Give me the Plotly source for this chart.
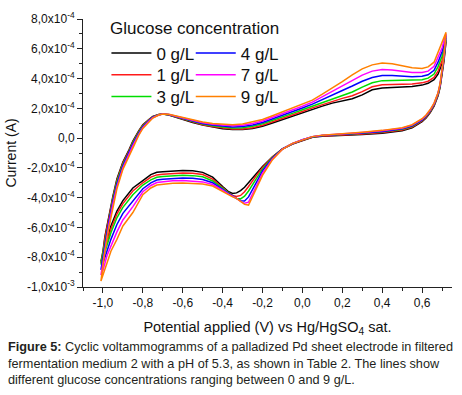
import plotly.graph_objects as go

# Potential grids (V vs Hg/HgSO4)
E_anodic = [-1.01, -1.0, -0.99, -0.97, -0.95, -0.93, -0.90, -0.87, -0.85, -0.82, -0.80, -0.77,
            -0.75, -0.72, -0.70, -0.67, -0.63, -0.60, -0.55, -0.50, -0.45, -0.40, -0.35, -0.30,
            -0.25, -0.20, -0.15, -0.10, -0.05, 0.0, 0.05, 0.10, 0.15, 0.20, 0.25, 0.30,
            0.35, 0.40, 0.45, 0.50, 0.55, 0.60, 0.63, 0.66, 0.68, 0.70, 0.71, 0.72]
E_cathodic = [0.72, 0.71, 0.70, 0.69, 0.68, 0.66, 0.64, 0.62, 0.60, 0.55, 0.50, 0.45,
              0.40, 0.30, 0.20, 0.10, 0.05, 0.0, -0.05, -0.10, -0.15, -0.20, -0.23, -0.25,
              -0.27, -0.29, -0.31, -0.33, -0.35, -0.37, -0.40, -0.45, -0.50, -0.55, -0.60, -0.65,
              -0.70, -0.73, -0.76, -0.80, -0.85, -0.90, -0.93, -0.96, -0.98, -1.0, -1.01]

# Currents in units of 1e-4 A
I0_an = [-8.3, -7.6, -6.6, -5.2, -3.9, -2.75, -1.6, -0.8, -0.2, 0.5, 0.9, 1.25, 1.45, 1.58, 1.62, 1.55,
         1.38, 1.24, 1.05, 0.88, 0.75, 0.63, 0.57, 0.57, 0.65, 0.8, 1.02, 1.25, 1.5, 1.72, 1.95, 2.15,
         2.35, 2.5, 2.65, 2.9, 3.25, 3.36, 3.38, 3.41, 3.46, 3.56, 3.68, 3.92, 4.3, 5.0, 5.7, 6.5]
I1_an = [-8.4, -7.7, -6.7, -5.3, -4.0, -2.85, -1.68, -0.87, -0.26, 0.45, 0.87, 1.23, 1.44, 1.58, 1.62, 1.56,
         1.4, 1.26, 1.07, 0.9, 0.78, 0.67, 0.61, 0.62, 0.7, 0.86, 1.08, 1.31, 1.56, 1.79, 2.03, 2.25,
         2.47, 2.67, 2.85, 3.12, 3.45, 3.58, 3.6, 3.61, 3.64, 3.71, 3.82, 4.07, 4.5, 5.2, 5.85, 6.6]
I3_an = [-8.5, -7.8, -6.85, -5.45, -4.1, -2.95, -1.78, -0.95, -0.32, 0.4, 0.82, 1.2, 1.42, 1.57, 1.62, 1.57,
         1.42, 1.29, 1.1, 0.94, 0.83, 0.73, 0.68, 0.7, 0.79, 0.96, 1.18, 1.41, 1.66, 1.9, 2.14, 2.38,
         2.63, 2.87, 3.1, 3.42, 3.72, 3.86, 3.87, 3.85, 3.86, 3.92, 4.03, 4.3, 4.8, 5.5, 6.1, 6.75]
I4_an = [-8.85, -8.0, -7.05, -5.6, -4.25, -3.1, -1.88, -1.02, -0.4, 0.33, 0.76, 1.16, 1.4, 1.56, 1.62, 1.58,
         1.44, 1.32, 1.14, 0.98, 0.88, 0.79, 0.75, 0.78, 0.88, 1.05, 1.28, 1.52, 1.77, 2.02, 2.28, 2.6,
         2.9, 3.2, 3.5, 3.82, 4.07, 4.2, 4.2, 4.15, 4.12, 4.15, 4.25, 4.55, 5.1, 5.8, 6.35, 6.9]
I7_an = [-9.2, -8.3, -7.3, -5.8, -4.42, -3.25, -2.0, -1.1, -0.5, 0.26, 0.7, 1.13, 1.37, 1.55, 1.62, 1.59,
         1.46, 1.35, 1.18, 1.03, 0.93, 0.86, 0.83, 0.87, 0.98, 1.15, 1.39, 1.64, 1.89, 2.14, 2.42, 2.78,
         3.13, 3.5, 3.88, 4.23, 4.5, 4.6, 4.57, 4.48, 4.4, 4.4, 4.5, 4.82, 5.4, 6.05, 6.55, 7.0]
I9_an = [-9.6, -8.6, -7.6, -6.0, -4.6, -3.4, -2.1, -1.2, -0.6, 0.2, 0.65, 1.1, 1.35, 1.55, 1.62, 1.6,
         1.48, 1.38, 1.22, 1.08, 0.98, 0.92, 0.9, 0.95, 1.08, 1.25, 1.5, 1.75, 2.0, 2.25, 2.55, 2.95,
         3.35, 3.8, 4.25, 4.65, 4.92, 5.05, 5.0, 4.85, 4.72, 4.67, 4.78, 5.1, 5.75, 6.35, 6.75, 7.1]

I0_ca = [6.5, 5.2, 4.2, 3.4, 2.85, 2.15, 1.7, 1.35, 1.1, 0.7, 0.5, 0.4, 0.33, 0.25, 0.2, 0.13,
         0.05, -0.15, -0.4, -0.72, -1.25, -1.9, -2.35, -2.7, -3.0, -3.3, -3.52, -3.68, -3.72, -3.6,
         -3.25, -2.62, -2.3, -2.2, -2.18, -2.2, -2.26, -2.3, -2.45, -2.85, -3.35, -4.2, -4.9, -5.9,
         -6.9, -7.9, -8.3]
I1_ca = [6.6, 5.3, 4.25, 3.45, 2.9, 2.2, 1.75, 1.4, 1.15, 0.75, 0.55, 0.45, 0.37, 0.28, 0.22, 0.15,
         0.06, -0.14, -0.4, -0.72, -1.28, -1.98, -2.5, -2.9, -3.25, -3.6, -3.85, -3.92, -3.85, -3.68,
         -3.33, -2.75, -2.45, -2.36, -2.34, -2.36, -2.42, -2.47, -2.62, -3.0, -3.55, -4.4, -5.1, -6.1,
         -7.0, -8.0, -8.4]
I3_ca = [6.75, 5.4, 4.3, 3.5, 2.95, 2.25, 1.8, 1.45, 1.2, 0.8, 0.6, 0.5, 0.42, 0.32, 0.25, 0.17,
         0.08, -0.12, -0.38, -0.72, -1.3, -2.08, -2.7, -3.15, -3.55, -3.9, -4.08, -4.05, -3.88, -3.7,
         -3.38, -2.88, -2.6, -2.52, -2.5, -2.52, -2.58, -2.63, -2.8, -3.15, -3.8, -4.65, -5.35, -6.35,
         -7.2, -8.15, -8.5]
I4_ca = [6.9, 5.45, 4.38, 3.55, 3.0, 2.28, 1.83, 1.48, 1.23, 0.83, 0.63, 0.53, 0.45, 0.35, 0.27, 0.18,
         0.09, -0.11, -0.37, -0.73, -1.35, -2.2, -2.95, -3.45, -3.95, -4.22, -4.2, -4.05, -3.9, -3.72,
         -3.44, -3.0, -2.78, -2.7, -2.68, -2.7, -2.76, -2.82, -3.0, -3.4, -4.2, -5.05, -5.8, -6.8,
         -7.6, -8.55, -8.85]
I7_ca = [7.0, 5.55, 4.45, 3.6, 3.02, 2.32, 1.87, 1.52, 1.27, 0.87, 0.67, 0.57, 0.49, 0.38, 0.29, 0.19,
         0.1, -0.1, -0.36, -0.74, -1.4, -2.35, -3.2, -3.75, -4.3, -4.38, -4.25, -4.05, -3.92, -3.76,
         -3.5, -3.12, -2.94, -2.87, -2.85, -2.87, -2.92, -2.98, -3.18, -3.6, -4.6, -5.5, -6.3, -7.2,
         -7.9, -8.9, -9.2]
I9_ca = [7.1, 5.6, 4.5, 3.65, 3.05, 2.35, 1.9, 1.55, 1.3, 0.9, 0.7, 0.6, 0.52, 0.4, 0.3, 0.2,
         0.1, -0.1, -0.35, -0.75, -1.45, -2.5, -3.4, -4.0, -4.5, -4.45, -4.25, -4.05, -3.95, -3.8,
         -3.55, -3.22, -3.08, -3.03, -3.02, -3.04, -3.08, -3.15, -3.35, -3.8, -5.0, -5.9, -6.8, -7.6,
         -8.4, -9.2, -9.6]

labels = ["0 g/L", "1 g/L", "3 g/L", "4 g/L", "7 g/L", "9 g/L"]
colors = ["#000000", "#ff1a1a", "#00dd00", "#0000ff", "#ff00ff", "#ff8000"]
anodic = [I0_an, I1_an, I3_an, I4_an, I7_an, I9_an]
cathodic = [I0_ca, I1_ca, I3_ca, I4_ca, I7_ca, I9_ca]

y_tickvals = [-10, -8, -6, -4, -2, 0, 2, 4, 6, 8]
y_ticktext = ["-1,0x10<sup>-3</sup>", "-8,0x10<sup>-4</sup>", "-6,0x10<sup>-4</sup>",
              "-4,0x10<sup>-4</sup>", "-2,0x10<sup>-4</sup>", "0,0", "2,0x10<sup>-4</sup>",
              "4,0x10<sup>-4</sup>", "6,0x10<sup>-4</sup>", "8,0x10<sup>-4</sup>"]
x_tickvals = [-1.0, -0.8, -0.6, -0.4, -0.2, 0.0, 0.2, 0.4, 0.6]
x_ticktext = ["-1,0", "-0,8", "-0,6", "-0,4", "-0,2", "0,0", "0,2", "0,4", "0,6"]

FONT = "Liberation Sans, Arial, sans-serif"

# legend slots: two columns of three rows (paper coordinates)
leg_x = [0.0635, 0.0635, 0.0635, 0.292, 0.292, 0.292]
leg_y = [0.871, 0.790, 0.709, 0.871, 0.790, 0.709]

fig = go.Figure()
layout_legends = {}
for i in range(6):
    lid = "legend" if i == 0 else f"legend{i + 1}"
    xs = E_anodic + E_cathodic
    ys = [v * 1e-4 for v in anodic[i] + cathodic[i]]
    fig.add_trace(go.Scatter(x=xs, y=ys, mode="lines", name=labels[i],
                             line=dict(color=colors[i], width=1.5), legend=lid))
    layout_legends[lid] = dict(x=leg_x[i], y=leg_y[i], xanchor="left", yanchor="middle",
                               bgcolor="rgba(0,0,0,0)", borderwidth=0,
                               font=dict(family=FONT, size=17, color="#111"), itemwidth=40)

axis_common = dict(showline=True, linecolor="#222", linewidth=1, ticks="outside",
                   ticklen=5, tickwidth=1, tickcolor="#222", showgrid=False, zeroline=False,
                   mirror=False, tickfont=dict(family=FONT, size=12, color="#111"))

fig.update_layout(
    width=462, height=395,
    margin=dict(l=82, r=10, t=16, b=108),
    paper_bgcolor="white", plot_bgcolor="white",
    font=dict(family=FONT, color="#111"),
    xaxis=dict(range=[-1.1, 0.75], tickmode="array", tickvals=x_tickvals, ticktext=x_ticktext,
               minor=dict(tickmode="linear", tick0=-1.1, dtick=0.1, ticklen=3, ticks="outside",
                          tickcolor="#222"),
               title=dict(text="Potential applied (V) vs Hg/HgSO<sub>4</sub> sat.",
                          font=dict(family=FONT, size=14.5, color="#111"), standoff=12),
               **axis_common),
    yaxis=dict(range=[-10e-4, 8e-4], tickmode="array", tickvals=[v * 1e-4 for v in y_tickvals],
               ticktext=y_ticktext,
               minor=dict(tickmode="linear", tick0=0, dtick=1e-4, ticklen=3, ticks="outside",
                          tickcolor="#222"),
               title=dict(text="Current (A)", font=dict(family=FONT, size=14, color="#111"),
                          standoff=7),
               **axis_common),
    showlegend=True,
    **layout_legends,
)

fig.add_annotation(text="Glucose concentration", xref="paper", yref="paper",
                   x=0.0676, y=0.963, xanchor="left", yanchor="middle", showarrow=False,
                   font=dict(family=FONT, size=17, color="#111"))

fig.add_annotation(
    text="<b>Figure 5:</b> Cyclic voltammogramms of a palladized Pd sheet electrode in filtered<br>"
         "fermentation medium 2 with a pH of 5.3, as shown in Table 2. The lines show<br>"
         "different glucose concentrations ranging between 0 and 9 g/L.",
    xref="paper", yref="paper", x=-0.208, y=-0.19, xanchor="left", yanchor="top",
    align="left", showarrow=False, font=dict(family=FONT, size=12.7, color="#231f20"))

fig.write_html("out.html", config={"displayModeBar": False},
               post_script="document.body.style.margin='0';")
